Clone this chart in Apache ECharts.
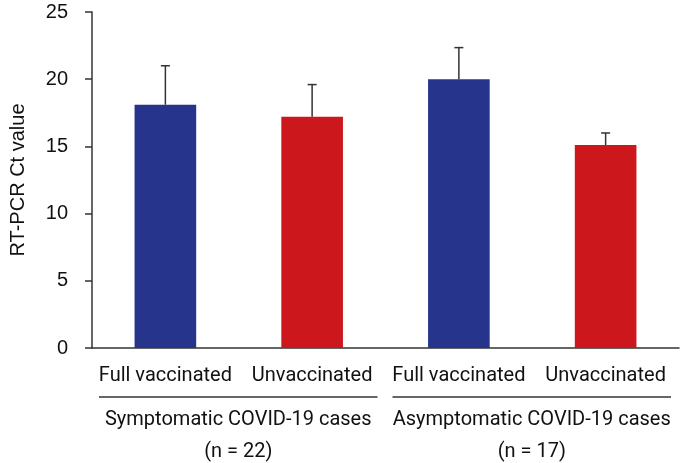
<!DOCTYPE html>
<html><head><meta charset="utf-8">
<script src="https://cdn.jsdelivr.net/npm/echarts@6/dist/echarts.min.js"></script>
<style>html,body{margin:0;padding:0;background:#fff}#c{width:682px;height:463px}</style>
</head><body><div id="c"></div>
<script>
const categories = ['Full vaccinated', 'Unvaccinated', 'Full vaccinated', 'Unvaccinated'];
const means = [18.1, 17.2, 20.0, 15.1];
const errors = [2.9, 2.4, 2.35, 0.9];
const barColors = ['#27348b', '#cc171d', '#27348b', '#cc171d'];
const groups = ['Symptomatic COVID-19 cases\n(n = 22)', 'Asymptomatic COVID-19 cases\n(n = 17)'];
const groupSpans = [[0, 1], [2, 3]];
const yTicks = [0, 5, 10, 15, 20, 25];

const chart = echarts.init(document.getElementById('c'), null, {renderer: 'canvas'});
const option = {
  animation: false,
  grid: {left: 81, right: 3, top: 12, bottom: 115},
  xAxis: [{
    type: 'category', data: categories, boundaryGap: true,
    axisLine: {lineStyle: {color: '#333', width: 1.5}},
    axisTick: {interval: 0, length: 7, lineStyle: {color: '#333', width: 1.5}},
    axisLabel: {interval: 0, fontFamily: 'Roboto', fontSize: 20, color: '#111', margin: 18}
  }],
  yAxis: {
    type: 'value', min: yTicks[0], max: yTicks[yTicks.length - 1], interval: 5,
    name: 'RT-PCR Ct value', nameLocation: 'middle', nameGap: 64, nameRotate: 90,
    nameTextStyle: {fontFamily: 'Liberation Sans', fontSize: 20, color: '#111'},
    axisLine: {show: true, lineStyle: {color: '#333', width: 1.5}},
    axisTick: {show: true, length: 7, lineStyle: {color: '#333', width: 1.5}},
    axisLabel: {fontFamily: 'Liberation Sans', fontSize: 20, color: '#111', margin: 24},
    splitLine: {show: false}
  },
  series: [{
    type: 'bar', barWidth: '42%',
    data: means.map((v, i) => ({value: v, itemStyle: {color: barColors[i]}}))
  }, {
    type: 'custom',
    data: means.map((v, i) => [i, v, v + errors[i]]),
    renderItem: function (params, api) {
      const p0 = api.coord([api.value(0), api.value(1)]);
      const p1 = api.coord([api.value(0), api.value(2)]);
      const hw = 4.5;
      const st = {stroke: '#333', lineWidth: 1.5};
      return {type: 'group', children: [
        {type: 'line', shape: {x1: p0[0], y1: p0[1], x2: p1[0], y2: p1[1]}, style: st},
        {type: 'line', shape: {x1: p1[0] - hw, y1: p1[1], x2: p1[0] + hw, y2: p1[1]}, style: st}
      ]};
    },
    z: 1
  }]
};
chart.setOption(option);

// group brackets and labels under the axis, positioned from the category scale
const y0 = chart.convertToPixel({yAxisIndex: 0}, 0);
const half = (chart.convertToPixel({xAxisIndex: 0}, 1) - chart.convertToPixel({xAxisIndex: 0}, 0)) / 2;
const graphics = [];
groupSpans.forEach((span, gi) => {
  const xa = chart.convertToPixel({xAxisIndex: 0}, span[0]) - half + 7;
  const xb = chart.convertToPixel({xAxisIndex: 0}, span[1]) + half - 8;
  graphics.push({type: 'line', shape: {x1: xa, y1: y0 + 49, x2: xb, y2: y0 + 49}, style: {stroke: '#333', lineWidth: 1.5}});
  graphics.push({type: 'text', x: (xa + xb) / 2, y: y0 + 56, style: {
    text: groups[gi], fontFamily: 'Roboto', fontSize: 20, fill: '#111', align: 'center', verticalAlign: 'top', lineHeight: 32
  }});
});
chart.setOption({graphic: graphics});
</script></body></html>
